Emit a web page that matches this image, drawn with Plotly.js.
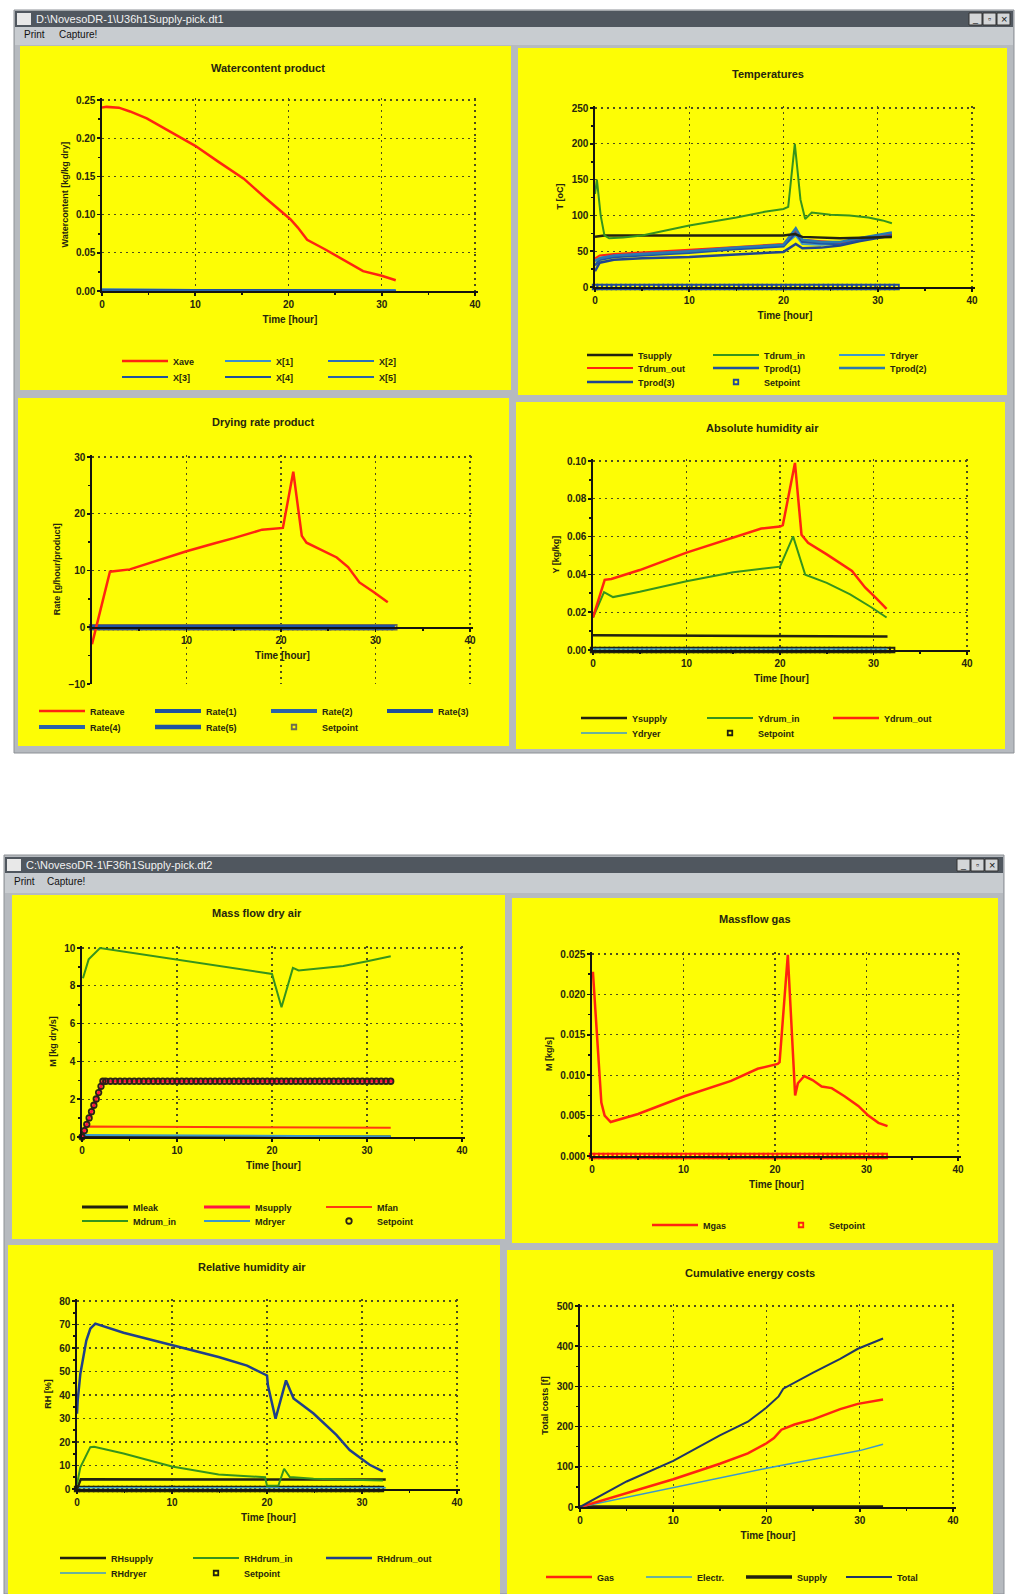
<!DOCTYPE html>
<html><head><meta charset="utf-8">
<script src="https://cdn.plot.ly/plotly-3.0.1.min.js"></script>
<style>html,body{margin:0;padding:0;background:#fff;}#chart{width:1018px;height:1594px;}</style>
</head><body><div id="chart"></div>
<script>
// ================= DATA =================
// Watercontent product
const tWc = [0,0.5,1.8,3,4.8,7,10,12.5,15.2,17.5,20.2,21,22,24,26,28,30,31.5];
const wcXave = [0.240,0.241,0.240,0.235,0.226,0.211,0.190,0.169,0.147,0.122,0.094,0.083,0.067,0.054,0.040,0.026,0.020,0.014];
const tWcLayer = [0,15,31.5];
const wcX1 = [0.002,0.001,0.001];
const wcX2 = [0.002,0.001,0.001];
const wcX3 = [0.001,0.001,0.000];
const wcX4 = [0.001,0.001,0.000];
const wcX5 = [0.001,0.000,0.000];

// Temperatures
const tTin = [0,0.2,0.6,1.0,1.5,3,5,10,15,18,20,20.5,21.2,21.8,22.3,23,25,27,29,30.5,31.5];
const tempDrumIn = [130,150,100,72,68,69,72,86,97,105,109,112,200,122,95,104,101,100,97,93,89];
const tTsup = [0,1,10,20,21.2,22,26,31.5];
const tempSupply = [70,72,72,72,74,70,68,70];
const tTp = [0,0.5,2,5,10,15,20,21.3,22,24,26,28,30,31.5];
const tempDrumOut = [40,44,46,48,52,56,60,80,66,64,62,68,72,75];
const tempProd1 = [30,38,42,44,48,53,57,76,63,61,60,66,70,73];
const tempProd2 = [36,40,44,46,50,55,59,82,66,63,63,68,72,76];
const tempProd3 = [22,34,38,40,42,45,49,60,54,55,58,64,69,72];
const tempDryer = [38,41,45,47,51,55,58,72,60,59,60,66,70,74];

// Setpoint markers (shared time base, every half hour)
const tSet = [0,0.5,1,1.5,2,2.5,3,3.5,4,4.5,5,5.5,6,6.5,7,7.5,8,8.5,9,9.5,10,10.5,11,11.5,12,12.5,13,13.5,14,14.5,15,15.5,16,16.5,17,17.5,18,18.5,19,19.5,20,20.5,21,21.5,22,22.5,23,23.5,24,24.5,25,25.5,26,26.5,27,27.5,28,28.5,29,29.5,30,30.5,31,31.5,32];
const setZero = [0,0,0,0,0, 0,0,0,0,0, 0,0,0,0,0, 0,0,0,0,0, 0,0,0,0,0, 0,0,0,0,0, 0,0,0,0,0, 0,0,0,0,0, 0,0,0,0,0, 0,0,0,0,0, 0,0,0,0,0, 0,0,0,0,0, 0,0,0,0,0];

// Drying rate product
const tRate = [0,1.9,4.0,7,10,13,15,18,20.2,21.3,22.2,22.7,24.3,25.9,27.1,28.3,29.8,31.3];
const rateAve = [-3,9.8,10.2,11.8,13.4,14.8,15.7,17.2,17.5,27.4,16.1,14.9,13.6,12.3,10.6,7.9,6.2,4.4];
const tRateLayer = [0,32];
const rate1 = [0,0]; const rate2 = [0,0]; const rate3 = [0,0]; const rate4 = [0,0]; const rate5 = [0,0];

// Absolute humidity air
const tYout = [0,1.25,1.96,5,10,15,18,20,20.3,21.6,22.3,23,25,27.7,29.1,30.2,31.4];
const yDrumOut = [0.0172,0.0371,0.0376,0.0423,0.0515,0.0597,0.0643,0.0653,0.066,0.0990,0.0610,0.0567,0.0506,0.0418,0.0331,0.0278,0.0217];
const tYin = [0,1.18,2.14,5,10,15,20,21.4,22.7,25,27.5,29.8,31.4];
const yDrumIn = [0.0172,0.0306,0.0280,0.0308,0.0364,0.0411,0.0441,0.0601,0.0398,0.0355,0.0294,0.0225,0.0172];
const tYsup = [0,31.5];
const ySupply = [0.0078,0.0072];
const yDryer = [0.0005,0.0005];

// Mass flow dry air
const tMin = [0.1,0.7,1.9,10,20,21.0,22.2,22.8,24.7,27.5,29.9,32.5];
const mDrumIn = [8.4,9.4,10.0,9.37,8.63,6.87,8.95,8.81,8.91,9.05,9.29,9.56];
const tMsup = [0,2.2,32.8];
const mSupply = [0,2.95,2.95];
const tSet5 = [0,0.25,0.5,0.75,1,1.25,1.5,1.75,2,2.2,
  2.5,3,3.5,4,4.5,5,5.5,6,6.5,7,7.5,8,8.5,9,9.5,10,10.5,11,11.5,12,12.5,13,13.5,14,14.5,15,15.5,16,16.5,17,17.5,
  18,18.5,19,19.5,20,20.5,21,21.5,22,22.5,23,23.5,24,24.5,25,25.5,26,26.5,27,27.5,28,28.5,29,29.5,30,30.5,31,31.5,32,32.5];
const mSetpoint = [0,0.34,0.67,1.01,1.34,1.68,2.01,2.35,2.68,2.95,
  2.95,2.95,2.95,2.95,2.95,2.95,2.95,2.95,2.95,2.95,
  2.95,2.95,2.95,2.95,2.95,2.95,2.95,2.95,2.95,2.95,
  2.95,2.95,2.95,2.95,2.95,2.95,2.95,2.95,2.95,2.95,
  2.95,2.95,2.95,2.95,2.95,2.95,2.95,2.95,2.95,2.95,
  2.95,2.95,2.95,2.95,2.95,2.95,2.95,2.95,2.95,2.95,
  2.95,2.95,2.95,2.95,2.95,2.95,2.95,2.95,2.95,2.95,
  2.95];
const tMfan = [0,0.3,32.5];
const mFan = [0,0.55,0.49];
const tMflat = [0,32.5];
const mDryer = [0.10,0.03];
const mLeak = [0,0];

// Massflow gas
const tGas = [0.1,0.66,1.02,1.38,2.04,5.03,10.1,15.2,18.1,20.3,20.5,21.4,22.2,22.5,23.2,24.1,25.1,26.2,27.6,29.1,30.2,31.3,32.3];
const mGas = [0.0228,0.0128,0.0066,0.0050,0.0042,0.0052,0.0074,0.0093,0.0108,0.0114,0.0116,0.0249,0.0075,0.0090,0.0099,0.0094,0.0086,0.0084,0.0074,0.0062,0.0050,0.0041,0.0037];

// Relative humidity air
const tRHout = [0,0.07,0.35,0.98,1.4,1.93,4.9,10,14.9,17.9,20,20.1,20.9,22,22.8,24.9,27.3,28.7,29.8,30.8,32.2];
const rhDrumOut = [32,37.6,49,63.2,68.2,70.4,66.5,61.4,56.2,52.5,48.3,44,29.9,46.2,38.5,32.1,23,16.6,13.1,10.3,7.5];
const tRHin = [0,0.35,1.4,1.8,4.9,10,14.9,19.8,20,21.2,21.8,22.4,24.9,32.2];
const rhDrumIn = [2,9.2,17.8,18,15.1,9.6,6.2,5.0,1.4,1.5,8.6,5.1,4.4,3.6];
const tRHsup = [0,0.4,32.5];
const rhSupply = [0,4.2,4.0];
const tRHdry = [0,32.5];
const rhDryer = [0.5,0.5];

// Cumulative energy costs
const tCost = [0,5,10,15,18,20,20.8,21.6,23,25,27.9,29.8,32.5];
const costGas = [0,34.5,68.9,107.6,133.2,158.6,171.3,192.3,205.1,218,243.6,256.6,267.2];
const tTot = [0,5,10,15,18,20,21.3,21.8,25,27.9,29.8,32.5];
const costTotal = [0,63.5,114.6,178.2,212.1,247.5,275.2,294.4,334.3,368.2,393.6,419.2];
const tEl = [0,10,20,30,32.5];
const costElectr = [0,48.2,96.3,140.3,155.9];
const tSup8 = [0,32.5];
const costSupply = [0,0];

// ================= LAYOUT =================
const W = 1018, H = 1594;
const px = v => v / W;
const py = v => 1 - v / H;
const FONT = 'Liberation Sans, Arial, sans-serif';
const TXT = '#26260f';
const AX = '#141410';

const panels = [
  {box:[102,100,475,291], y:[0,0.25], dy:0.05, fmt:'.2f', yt:'Watercontent [kg/kg dry]', title:'Watercontent product', tc:[268,68]},
  {box:[595,108,972,287], y:[0,250], dy:50, fmt:'', yt:'T [oC]', title:'Temperatures', tc:[768,74]},
  {box:[92,457,470,684], y:[-10,30], dy:10, fmt:'', yt:'Rate [g/hour/product]', title:'Drying rate product', tc:[263,422], xAtZero:true},
  {box:[593,461,967,650], y:[0,0.10], dy:0.02, fmt:'.2f', yt:'Y [kg/kg]', title:'Absolute humidity air', tc:[762,428]},
  {box:[82,948,462,1137], y:[0,10], dy:2, fmt:'', yt:'M [kg dry/s]', title:'Mass flow dry air', tc:[257,913]},
  {box:[592,954,958,1156], y:[0,0.025], dy:0.005, fmt:'.3f', yt:'M [kg/s]', title:'Massflow gas', tc:[755,919]},
  {box:[77,1301,457,1489], y:[0,80], dy:10, fmt:'', yt:'RH [%]', title:'Relative humidity air', tc:[252,1267]},
  {box:[580,1306,953,1507], y:[0,500], dy:100, fmt:'', yt:'Total costs [f]', title:'Cumulative energy costs', tc:[750,1273]}
];

function axisBase(){
  return {
    showline:true, linecolor:AX, linewidth:1.6, mirror:false,
    showgrid:true, gridcolor:'#4d4d1c', gridwidth:1.2, griddash:'2px,4px',
    zeroline:false, ticks:'outside', ticklen:3, tickwidth:1.6, tickcolor:AX,
    tickfont:{family:FONT, size:10, color:TXT, weight:'bold'},
    fixedrange:true, automargin:false
  };
}

const layout = {
  width:W, height:H, margin:{l:0,r:0,t:0,b:0},
  paper_bgcolor:'#ffffff', plot_bgcolor:'rgba(0,0,0,0)',
  font:{family:FONT, color:TXT},
  showlegend:true, hovermode:false,
  shapes:[], annotations:[]
};

panels.forEach((p,i)=>{
  const n = i+1, s = n===1 ? '' : String(n);
  const [l,t,r,b] = p.box;
  const xe = 0.3;
  const rr = r + (r-l)*xe/40;
  const span = p.y[1]-p.y[0];
  const ye = span*0.01;
  const tt = t - (b-t)*ye/span;
  const x = Object.assign(axisBase(), {
    domain:[px(l), px(rr)], range:[0, 40+xe],
    anchor: p.xAtZero ? 'free' : 'y'+s,
    tick0:0, dtick:10,
    minor:{ticks:'outside', ticklen:2, tickwidth:1.6, tickcolor:AX, dtick:5, tick0:0, showgrid:false},
    title:{text:'Time [hour]', font:{family:FONT, size:10, color:TXT, weight:'bold'}, standoff:7}
  });
  if (p.xAtZero) {
    const zeroPx = b - (0 - p.y[0])/(span+ye)*(b-tt);
    x.position = py(zeroPx);
    x.tickmode = 'array'; x.tickvals = [10,20,30,40];
    x.minor = {ticks:'outside', ticklen:2, tickwidth:1.6, tickcolor:AX, tickmode:'array', tickvals:[5,15,25,35], showgrid:false};
  }
  layout['xaxis'+s] = x;
  layout['yaxis'+s] = Object.assign(axisBase(), {
    domain:[py(b), py(tt)], range:[p.y[0], p.y[1]+ye], anchor:'x'+s,
    tick0:p.y[0], dtick:p.dy, tickformat:p.fmt,
    minor:{ticks:'outside', ticklen:2, tickwidth:1.6, tickcolor:AX, dtick:p.dy/2, tick0:p.y[0], showgrid:false},
    title:{text:p.yt, font:{family:FONT, size:9, color:TXT, weight:'bold'}, standoff:6}
  });
  layout.annotations.push({xref:'paper', yref:'paper', x:px(p.tc[0]), y:py(p.tc[1]), xanchor:'center', yanchor:'middle',
    text:p.title, showarrow:false, font:{family:FONT, size:11, color:TXT, weight:'bold'}});
});

// legends: [id, line start px, row y px, column spacing px]
const LEG = [
  ['legend',122,361,103],['legend2',122,377,103],
  ['legend3',587,355,126],['legend4',587,368,126],['legend5',587,382,126],
  ['legend6',39,711,116],['legend7',39,727,116],
  ['legend8',581,718,126],['legend9',581,733,126],
  ['legend10',82,1207,122],['legend11',82,1221,122],
  ['legend12',652,1225,126],
  ['legend13',60,1558,133],['legend14',60,1573,133],
  ['legend15',546,1577,100]
];
LEG.forEach(([id,xl,yr,sp])=>{
  layout[id] = {x:px(xl-5), y:py(yr), xanchor:'left', yanchor:'middle', orientation:'h',
    bgcolor:'rgba(0,0,0,0)', borderwidth:0, itemwidth:46, entrywidth:sp-61, entrywidthmode:'pixels',
    font:{family:FONT, size:9, color:TXT, weight:'bold'}, itemclick:false, itemdoubleclick:false, tracegroupgap:0};
});

// window chrome
function rect(x0,y0,x1,y1,fill,line){
  layout.shapes.push({type:'rect', xref:'paper', yref:'paper', layer:'below',
    x0:px(x0), x1:px(x1), y0:py(y1), y1:py(y0), fillcolor:fill, line:{color:line||fill, width:line?1:0}});
}
function label(x,y,text,size,color,anchor){
  layout.annotations.push({xref:'paper', yref:'paper', x:px(x), y:py(y), xanchor:anchor||'left', yanchor:'middle',
    text:text, showarrow:false, font:{family:FONT, size:size, color:color}});
}
// window 1
rect(14,10,1014,753,'#b6babf','#8d9196');
rect(15,11,1013,27,'#50575f');
rect(15,27,1013,45,'#c8ccd0');
rect(20,46,511,390,'#fdfd05'); rect(518,48,1007,395,'#fdfd05');
rect(18,398,509,746,'#fdfd05'); rect(516,402,1005,749,'#fdfd05');
rect(17,13,31,25,'#e8e8e8');
label(34,19,'D:\\NovesoDR-1\\U36h1Supply-pick.dt1',11,'#f2f2f2');
label(22,35,'Print',10,'#111'); label(57,35,'Capture!',10,'#111');
rect(969,13,982,25,'#d4d6d8','#333'); rect(983,13,996,25,'#d4d6d8','#333'); rect(997,13,1010,25,'#d4d6d8','#333');
label(975.5,19,'_',9,'#111','center'); label(989.5,19,'▫',9,'#111','center'); label(1003.5,19,'×',11,'#111','center');
// window 2
rect(4,855,1004,1594,'#b6babf','#8d9196');
rect(5,857,1003,873,'#50575f');
rect(5,873,1003,893,'#c8ccd0');
rect(12,895,505,1239,'#fdfd05'); rect(512,898,998,1243,'#fdfd05');
rect(8,1245,500,1594,'#fdfd05'); rect(507,1250,993,1594,'#fdfd05');
rect(7,859,21,871,'#e8e8e8');
label(24,865,'C:\\NovesoDR-1\\F36h1Supply-pick.dt2',11,'#f2f2f2');
label(12,881,'Print',10,'#111'); label(45,881,'Capture!',10,'#111');
rect(957,859,970,871,'#d4d6d8','#333'); rect(971,859,984,871,'#d4d6d8','#333'); rect(985,859,998,871,'#d4d6d8','#333');
label(963.5,865,'_',9,'#111','center'); label(977.5,865,'▫',9,'#111','center'); label(991.5,865,'×',11,'#111','center');

// ================= TRACES =================
const traces = [];
function L(n, x, y, name, color, width, legend, rank, extra){
  const s = n===1 ? '' : String(n);
  traces.push(Object.assign({type:'scatter', mode:'lines', x:x, y:y, name:name, xaxis:'x'+s, yaxis:'y'+s,
    line:{color:color, width:width}, legend:legend, legendrank:rank, hoverinfo:'skip', cliponaxis:true}, extra||{}));
}
function S(n, x, y, color, legend, rank, symbol, size){
  const s = n===1 ? '' : String(n);
  traces.push({type:'scatter', mode:'markers', x:x, y:y, name:'Setpoint', xaxis:'x'+s, yaxis:'y'+s,
    marker:{symbol:symbol||'square-open', size:size||4.5, color:color, line:{width:1.8, color:color}},
    legend:legend, legendrank:rank, hoverinfo:'skip', cliponaxis:false});
}
const RED='#ff2410', GREEN='#35941c', BLUE='#1f52a0', CYAN='#3a98cc', BLK='#22220f', NAVY='#1f3566';

// 1 Watercontent
L(1,tWcLayer,wcX1,'X[1]','#3a8fd0',2,'legend',2);
L(1,tWcLayer,wcX2,'X[2]','#2a70b8',2,'legend',3);
L(1,tWcLayer,wcX3,'X[3]',BLUE,2,'legend2',4);
L(1,tWcLayer,wcX4,'X[4]','#1f4e9c',2,'legend2',5);
L(1,tWcLayer,wcX5,'X[5]','#2a62aa',2,'legend2',6);
L(1,tWc,wcXave,'Xave',RED,2.5,'legend',1);

// 2 Temperatures
S(2,tSet,setZero,'#22489a','legend5',8);
L(2,tTp,tempDryer,'Tdryer',CYAN,2,'legend3',3);
L(2,tTp,tempProd3,'Tprod(3)','#1f4590',2.5,'legend5',7);
L(2,tTp,tempProd1,'Tprod(1)',BLUE,2.5,'legend4',5);
L(2,tTp,tempDrumOut,'Tdrum_out',RED,2,'legend4',4);
L(2,tTp,tempProd2,'Tprod(2)','#2a7ab0',2.5,'legend4',6);
L(2,tTsup,tempSupply,'Tsupply',BLK,2.5,'legend3',1);
L(2,tTin,tempDrumIn,'Tdrum_in',GREEN,2,'legend3',2);

// 3 Drying rate
S(3,tSet,setZero,'#6d6d50','legend7',7);
L(3,tRateLayer,rate1,'Rate(1)',BLUE,4,'legend6',2);
L(3,tRateLayer,rate2,'Rate(2)','#2a62aa',4,'legend6',3);
L(3,tRateLayer,rate3,'Rate(3)','#1f4e9c',4,'legend6',4);
L(3,tRateLayer,rate4,'Rate(4)','#2a62aa',4,'legend7',5);
L(3,tRateLayer,rate5,'Rate(5)',BLUE,4.5,'legend7',6);
L(3,tRate,rateAve,'Rateave',RED,2.5,'legend6',1);

// 4 Absolute humidity
S(4,tSet,setZero,BLK,'legend9',5);
L(4,tYsup,yDryer,'Ydryer',CYAN,1.5,'legend9',4);
L(4,tYsup,ySupply,'Ysupply',BLK,2.5,'legend8',1);
L(4,tYin,yDrumIn,'Ydrum_in',GREEN,2,'legend8',2);
L(4,tYout,yDrumOut,'Ydrum_out',RED,2.5,'legend8',3);

// 5 Mass flow dry air
L(5,tMflat,mLeak,'Mleak',BLK,3,'legend10',1);
L(5,tMflat,mDryer,'Mdryer',CYAN,2,'legend11',5);
L(5,tMfan,mFan,'Mfan','#ff3a10',2,'legend10',3);
L(5,tMsup,mSupply,'Msupply','#ff1444',3,'legend10',2);
S(5,tSet5,mSetpoint,'#2a2118','legend11',6,'circle-open',5.5);
L(5,tMin,mDrumIn,'Mdrum_in',GREEN,2,'legend11',4);

// 6 Massflow gas
S(6,tSet,setZero,'#ff2010','legend12',2);
L(6,tGas,mGas,'Mgas',RED,2.5,'legend12',1);

// 7 Relative humidity
S(7,tSet,setZero,BLK,'legend14',5);
L(7,tRHdry,rhDryer,'RHdryer',CYAN,1.5,'legend14',4);
L(7,tRHsup,rhSupply,'RHsupply',BLK,2.5,'legend13',1);
L(7,tRHin,rhDrumIn,'RHdrum_in',GREEN,2,'legend13',2);
L(7,tRHout,rhDrumOut,'RHdrum_out','#1f3f8a',2.5,'legend13',3);

// 8 Cumulative energy costs
L(8,tSup8,costSupply,'Supply',BLK,3.5,'legend15',3);
L(8,tEl,costElectr,'Electr.',CYAN,1.5,'legend15',2);
L(8,tCost,costGas,'Gas',RED,2.5,'legend15',1);
L(8,tTot,costTotal,'Total',NAVY,2,'legend15',4);

Plotly.newPlot('chart', traces, layout, {staticPlot:true, displayModeBar:false});
</script></body></html>
